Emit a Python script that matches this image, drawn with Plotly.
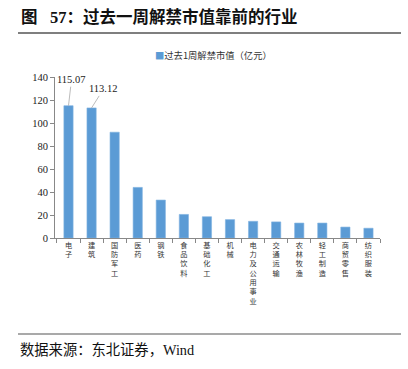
import plotly.graph_objects as go

categories = ["电子", "建筑", "国防军工", "医药", "钢铁", "食品饮料", "基础化工", "机械",
              "电力及公用事业", "交通运输", "农林牧渔", "轻工制造", "商贸零售", "纺织服装"]
values = [115.07, 113.12, 92, 44, 33, 20.5, 18.5, 16, 14.5, 14, 13, 13, 9.5, 8.5]
series_name = "过去1周解禁市值（亿元）"
y_ticks = [0, 20, 40, 60, 80, 100, 120, 140]

BAR = "#5B9BD5"
SERIF = "Liberation Serif, Noto Sans CJK SC, serif"

fig = go.Figure(go.Bar(
    x=categories, y=values, marker=dict(color=BAR, line=dict(color="#7FB2E0", width=0.6)),
    width=0.4, showlegend=False, name=series_name, hoverinfo="skip",
))

vertical = ["<br>".join(list(c)) for c in categories]

fig.update_layout(
    width=408, height=369,
    margin=dict(l=55, r=28, t=77, b=131),
    paper_bgcolor="white", plot_bgcolor="white",
    font=dict(family=SERIF, color="#222"),
    xaxis=dict(
        tickmode="array", tickvals=categories, ticktext=vertical,
        tickson="boundaries", ticks="outside", ticklen=4, tickcolor="#888",
        showline=True, linecolor="#888", linewidth=1,
        tickfont=dict(size=7.2, family="Noto Sans CJK SC", color="#333"),
        showgrid=False, tickangle=0,
    ),
    yaxis=dict(
        range=[0, 140], tickvals=y_ticks, ticks="outside", ticklen=4, tickcolor="#888",
        showline=True, linecolor="#888", linewidth=1, showgrid=False, zeroline=False,
        tickfont=dict(size=10.5, family=SERIF, color="#222"),
    ),
    bargap=0.6,
)

# data labels with leader lines for first two bars
fig.add_annotation(x=categories[0], y=values[0], text=f"{values[0]:.2f}", showarrow=True,
                   arrowhead=0, arrowwidth=0.8, arrowcolor="#aaa", ax=3, ay=-26,
                   font=dict(size=10.5, family=SERIF, color="#222"))
fig.add_annotation(x=categories[1], y=values[1], text=f"{values[1]:.2f}", showarrow=True,
                   arrowhead=0, arrowwidth=0.8, arrowcolor="#aaa", ax=12, ay=-19,
                   font=dict(size=10.5, family=SERIF, color="#222"))

# legend as annotation
fig.add_annotation(xref="paper", yref="paper", x=(153 - 55) / 325, y=(238 - 55) / 161,
                   xanchor="left", yanchor="middle", showarrow=False,
                   text=f"<span style='color:{BAR}'>■</span>{series_name}",
                   font=dict(size=9.3, family="Noto Sans CJK SC", color="#333"))

# title
fig.add_annotation(xref="paper", yref="paper", x=(19 - 55) / 325, y=(238 - 17) / 161,
                   xanchor="left", yanchor="middle", showarrow=False,
                   text="<b>图&nbsp;&nbsp;&nbsp;57：过去一周解禁市值靠前的行业</b>",
                   font=dict(size=16.5, family=SERIF, color="#111"))
# footer
fig.add_annotation(xref="paper", yref="paper", x=(18 - 55) / 325, y=(238 - 350) / 161,
                   xanchor="left", yanchor="middle", showarrow=False,
                   text="数据来源：东北证券，Wind",
                   font=dict(size=14.3, family=SERIF, color="#111"))

# rules
fig.add_shape(type="line", xref="paper", yref="paper",
              x0=(18 - 55) / 325, x1=(401 - 55) / 325,
              y0=(238 - 33) / 161, y1=(238 - 33) / 161,
              line=dict(color="#555", width=1.5))
fig.add_shape(type="line", xref="paper", yref="paper",
              x0=(18 - 55) / 325, x1=(401 - 55) / 325,
              y0=(238 - 334) / 161, y1=(238 - 334) / 161,
              line=dict(color="#555", width=1.2))

fig.write_html("out.html", config={"displayModeBar": False},
               post_script="document.body.style.margin='0';document.body.style.overflow='hidden';")
